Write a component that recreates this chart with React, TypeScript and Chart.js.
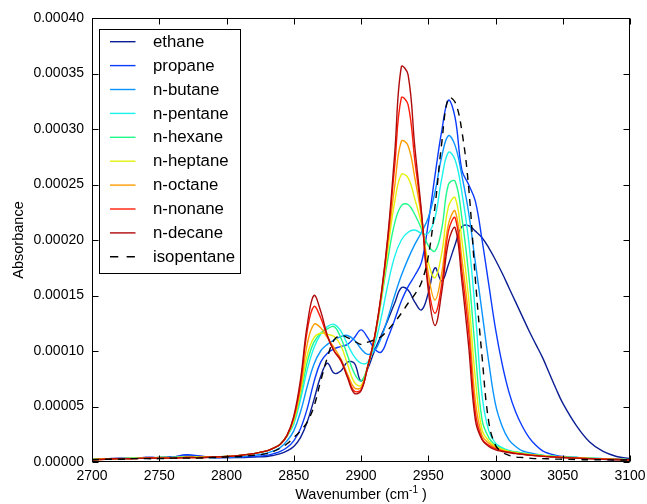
import React, { useEffect, useRef } from 'react';
import { Chart, registerables } from 'chart.js';

Chart.register(...registerables);

// Wavenumber grid (cm^-1)
const WAVENUMBER = [
  2700, 2710, 2720, 2730, 2740, 2750, 2760, 2770, 2780, 2790, 2800, 2810, 2820, 2830,
  2835, 2840, 2845, 2850, 2855, 2860, 2865, 2870, 2875, 2880, 2885, 2890, 2895, 2900,
  2905, 2910, 2915, 2920, 2925, 2930, 2935, 2940, 2945, 2950, 2955, 2960, 2965, 2970,
  2975, 2980, 2985, 2990, 2995, 3000, 3005, 3010, 3015, 3020, 3025, 3030, 3035, 3040,
  3045, 3050, 3060, 3070, 3080, 3090, 3100,
];

// Absorbance values in units of 1e-5
const ETHANE = [
  0.30, 0.30, 0.35, 0.35, 0.40, 0.40, 0.45, 0.55, 0.50, 0.40, 0.40, 0.40, 0.45, 0.50,
  0.60, 0.75, 1.00, 1.40, 2.20, 3.60, 5.60, 7.70, 8.90, 8.00, 8.20, 9.00, 8.90, 7.30,
  8.40, 10.0, 11.4, 12.8, 14.3, 15.7, 15.5, 14.4, 13.7, 15.2, 17.5, 16.3, 17.8, 19.6,
  21.2, 21.3, 20.8, 20.2, 19.3, 18.2, 17.0, 15.7, 14.4, 13.1, 11.8, 10.6, 9.4, 8.0,
  6.6, 5.3, 3.3, 1.8, 0.95, 0.50, 0.30,
];
const PROPANE = [
  0.25, 0.30, 0.30, 0.35, 0.40, 0.40, 0.45, 0.65, 0.55, 0.40, 0.40, 0.45, 0.50, 0.60,
  0.75, 0.95, 1.30, 1.90, 3.00, 4.80, 7.20, 9.00, 9.80, 10.2, 10.4, 10.6, 11.2, 11.9,
  11.2, 10.2, 9.9, 11.2, 12.8, 14.5, 15.8, 16.8, 18.0, 21.5, 25.8, 29.8, 32.6, 31.0,
  26.3, 25.0, 23.5, 20.0, 16.0, 12.0, 8.8, 6.3, 4.5, 3.2, 2.2, 1.5, 1.0, 0.75,
  0.60, 0.50, 0.40, 0.30, 0.25, 0.20, 0.20,
];
const N_BUTANE = [
  0.25, 0.30, 0.30, 0.30, 0.35, 0.35, 0.40, 0.50, 0.45, 0.40, 0.45, 0.50, 0.60, 0.80,
  1.00, 1.30, 1.90, 2.80, 4.50, 6.80, 8.80, 10.0, 10.6, 11.0, 11.3, 11.4, 11.0, 10.2,
  9.7, 10.0, 11.2, 13.0, 15.0, 16.8, 18.3, 19.6, 20.7, 22.0, 24.3, 27.5, 29.4, 28.5,
  25.8, 22.5, 18.0, 13.5, 9.0, 5.2, 3.2, 2.0, 1.4, 1.0, 0.85, 0.70, 0.60, 0.55,
  0.50, 0.45, 0.40, 0.35, 0.30, 0.25, 0.20,
];
const N_PENTANE = [
  0.25, 0.30, 0.30, 0.35, 0.35, 0.40, 0.40, 0.45, 0.45, 0.45, 0.50, 0.60, 0.75, 1.00,
  1.25, 1.60, 2.30, 3.40, 5.60, 8.30, 10.3, 11.5, 12.2, 12.4, 11.8, 10.6, 9.5, 8.9,
  9.0, 10.5, 13.0, 16.0, 18.5, 20.0, 20.7, 20.9, 20.6, 20.6, 22.0, 25.5, 27.9, 27.2,
  24.3, 20.0, 13.5, 6.0, 2.8, 1.7, 1.3, 1.05, 0.90, 0.80, 0.70, 0.65, 0.60, 0.55,
  0.50, 0.45, 0.40, 0.35, 0.30, 0.25, 0.20,
];
const N_HEXANE = [
  0.25, 0.30, 0.30, 0.35, 0.35, 0.40, 0.40, 0.45, 0.45, 0.45, 0.50, 0.60, 0.75, 1.00,
  1.25, 1.60, 2.35, 3.60, 6.00, 9.00, 10.8, 11.6, 12.0, 12.2, 11.2, 9.6, 8.0, 7.3,
  8.6, 11.0, 14.5, 18.3, 21.5, 23.1, 23.2, 22.3, 21.0, 19.5, 19.0, 21.0, 25.0, 25.3,
  22.0, 17.0, 10.0, 3.8, 2.2, 1.5, 1.2, 1.0, 0.90, 0.80, 0.70, 0.65, 0.60, 0.55,
  0.50, 0.45, 0.40, 0.35, 0.30, 0.25, 0.20,
];
const N_HEPTANE = [
  0.25, 0.30, 0.30, 0.35, 0.35, 0.40, 0.40, 0.45, 0.45, 0.45, 0.50, 0.60, 0.75, 1.00,
  1.25, 1.60, 2.35, 3.70, 6.30, 9.60, 11.2, 11.6, 11.5, 11.3, 10.5, 8.8, 7.2, 6.9,
  8.6, 11.1, 14.7, 19.2, 23.4, 25.9, 25.6, 23.7, 21.4, 18.0, 16.6, 18.8, 23.0, 23.8,
  20.0, 14.8, 7.5, 2.9, 1.9, 1.4, 1.15, 0.95, 0.85, 0.75, 0.68, 0.62, 0.57, 0.52,
  0.48, 0.44, 0.38, 0.33, 0.28, 0.24, 0.20,
];
const N_OCTANE = [
  0.20, 0.25, 0.30, 0.30, 0.35, 0.35, 0.35, 0.40, 0.40, 0.45, 0.50, 0.60, 0.75, 1.00,
  1.25, 1.60, 2.40, 3.90, 6.60, 10.6, 12.4, 12.1, 11.2, 10.3, 9.3, 7.9, 6.7, 6.7,
  8.6, 11.2, 14.9, 19.8, 24.8, 28.9, 28.5, 25.6, 22.0, 17.0, 14.6, 17.0, 21.4, 22.6,
  18.3, 13.0, 5.5, 2.4, 1.7, 1.3, 1.05, 0.90, 0.80, 0.72, 0.65, 0.60, 0.55, 0.50,
  0.46, 0.42, 0.36, 0.31, 0.27, 0.23, 0.20,
];
const N_NONANE = [
  0.20, 0.25, 0.30, 0.30, 0.35, 0.35, 0.35, 0.40, 0.40, 0.45, 0.50, 0.60, 0.75, 1.00,
  1.25, 1.60, 2.40, 4.00, 7.00, 11.8, 14.0, 13.0, 11.3, 10.0, 9.1, 7.7, 6.4, 6.5,
  8.6, 11.2, 15.0, 20.2, 26.6, 32.8, 32.2, 27.2, 22.3, 16.0, 13.4, 16.0, 20.8, 22.0,
  17.2, 11.8, 4.5, 2.1, 1.5, 1.2, 1.0, 0.88, 0.78, 0.70, 0.63, 0.58, 0.53, 0.48,
  0.45, 0.41, 0.35, 0.30, 0.26, 0.22, 0.20,
];
const N_DECANE = [
  0.20, 0.25, 0.30, 0.30, 0.35, 0.35, 0.35, 0.40, 0.40, 0.45, 0.50, 0.60, 0.75, 1.00,
  1.25, 1.60, 2.40, 4.10, 7.40, 12.3, 15.0, 13.6, 11.4, 10.0, 9.2, 7.6, 6.2, 6.4,
  8.6, 11.2, 15.1, 20.4, 27.7, 35.6, 34.9, 28.4, 22.5, 15.5, 12.3, 15.3, 19.8, 21.1,
  16.3, 10.5, 3.8, 2.0, 1.4, 1.1, 0.95, 0.85, 0.75, 0.70, 0.62, 0.56, 0.51, 0.47,
  0.44, 0.40, 0.35, 0.30, 0.25, 0.22, 0.20,
];
const ISOPENTANE = [
  0.20, 0.25, 0.25, 0.30, 0.30, 0.30, 0.35, 0.35, 0.35, 0.40, 0.45, 0.50, 0.60, 0.75,
  0.95, 1.25, 1.65, 2.20, 2.80, 3.60, 5.00, 7.30, 9.40, 11.0, 11.4, 11.2, 10.9, 10.6,
  10.8, 11.0, 11.3, 11.9, 12.6, 13.4, 14.3, 15.1, 16.2, 18.5, 23.0, 28.7, 32.8, 32.4,
  29.8, 24.8, 16.5, 9.5, 3.6, 1.5, 0.90, 0.60, 0.45, 0.40, 0.35, 0.30, 0.30, 0.28,
  0.26, 0.25, 0.22, 0.20, 0.20, 0.18, 0.18,
];

const SERIES = [ETHANE, PROPANE, N_BUTANE, N_PENTANE, N_HEXANE, N_HEPTANE, N_OCTANE, N_NONANE, N_DECANE, ISOPENTANE];
const SERIES_NAMES = ['ethane', 'propane', 'n-butane', 'n-pentane', 'n-hexane', 'n-heptane', 'n-octane', 'n-nonane', 'n-decane', 'isopentane'];
const SERIES_COLORS = ['#0b1e94', '#0a3bff', '#0994ff', '#1cf2ec', '#1ffa8a', '#e3f10c', '#ff9d00', '#ff1c08', '#b00a0a', '#000000'];
const VALUE_UNIT = 1e-5;

const X_MIN = 2700;
const X_MAX = 3100;
const X_STEP = 50;
const Y_MIN = 0;
const Y_MAX = 0.0004;
const Y_STEP = 0.00005;

const X_TITLE = 'Wavenumber (cm';
const X_TITLE_SUP = '-1';
const X_TITLE_TAIL = ' )';
const Y_TITLE = 'Absorbance';

const FONT = '"Liberation Sans", Arial, Helvetica, sans-serif';
const DASH = [7, 6];

const framePlugin = {
  id: 'mplFrame',
  afterDraw(chart: any) {
    const { ctx, chartArea } = chart;
    const xs = chart.scales.x;
    const ys = chart.scales.y;
    const L = Math.round(chartArea.left) + 0.5;
    const R = Math.round(chartArea.right) - 0.5;
    const T = Math.round(chartArea.top) + 0.5;
    const B = Math.round(chartArea.bottom) - 0.5;
    const TICK = 6;
    ctx.save();
    ctx.strokeStyle = '#000';
    ctx.lineWidth = 1;
    ctx.setLineDash([]);
    ctx.beginPath();
    xs.ticks.forEach((t: any) => {
      const px = Math.round(xs.getPixelForValue(t.value)) + 0.5;
      ctx.moveTo(px, B); ctx.lineTo(px, B - TICK);
      ctx.moveTo(px, T); ctx.lineTo(px, T + TICK);
    });
    ys.ticks.forEach((t: any) => {
      const py = Math.round(ys.getPixelForValue(t.value)) + 0.5;
      ctx.moveTo(L, py); ctx.lineTo(L + TICK, py);
      ctx.moveTo(R, py); ctx.lineTo(R - TICK, py);
    });
    ctx.stroke();
    ctx.strokeRect(L, T, R - L, B - T);

    // legend
    const lx = L + 7;
    const ly = T + 11;
    const lw = 141;
    const lh = 244;
    ctx.fillStyle = '#fff';
    ctx.fillRect(lx, ly, lw, lh);
    ctx.strokeStyle = '#000';
    ctx.lineWidth = 1;
    ctx.strokeRect(lx, ly, lw, lh);
    ctx.font = `16.8px ${FONT}`;
    ctx.textBaseline = 'middle';
    ctx.textAlign = 'left';
    chart.data.datasets.forEach((ds: any, i: number) => {
      const y = ly + 12.2 + i * 23.9;
      ctx.strokeStyle = ds.borderColor;
      ctx.lineWidth = ds.borderWidth;
      ctx.setLineDash(ds.borderDash && ds.borderDash.length ? [8.3, 8.3] : []);
      ctx.beginPath();
      ctx.moveTo(lx + 10.5, y);
      ctx.lineTo(lx + 36, y);
      ctx.stroke();
      ctx.setLineDash([]);
      ctx.fillStyle = '#000';
      ctx.fillText(ds.label, lx + 53.5, y + 0.5);
    });

    // axis titles
    ctx.fillStyle = '#000';
    ctx.font = `14.5px ${FONT}`;
    const w1 = ctx.measureText(X_TITLE).width;
    ctx.font = `10px ${FONT}`;
    const w2 = ctx.measureText(X_TITLE_SUP).width;
    ctx.font = `14.5px ${FONT}`;
    const w3 = ctx.measureText(X_TITLE_TAIL).width;
    const cx = (chartArea.left + chartArea.right) / 2;
    let x0 = cx - (w1 + w2 + w3) / 2;
    const base = 499;
    ctx.textBaseline = 'alphabetic';
    ctx.fillText(X_TITLE, x0, base);
    x0 += w1;
    ctx.font = `10px ${FONT}`;
    ctx.fillText(X_TITLE_SUP, x0, base - 6);
    x0 += w2;
    ctx.font = `14.5px ${FONT}`;
    ctx.fillText(X_TITLE_TAIL, x0, base);

    ctx.save();
    ctx.translate(19, (chartArea.top + chartArea.bottom) / 2);
    ctx.rotate(-Math.PI / 2);
    ctx.textAlign = 'center';
    ctx.textBaseline = 'middle';
    ctx.fillText(Y_TITLE, 0, 0);
    ctx.restore();
    ctx.restore();
  },
};

export default function App() {
  const ref = useRef<HTMLCanvasElement>(null);
  useEffect(() => {
    if (!ref.current) return;
    const datasets = SERIES.map((vals, i) => ({
      label: SERIES_NAMES[i],
      data: WAVENUMBER.map((w, j) => ({ x: w, y: vals[j] * VALUE_UNIT })),
      borderColor: SERIES_COLORS[i],
      backgroundColor: SERIES_COLORS[i],
      borderWidth: 1.4,
      borderDash: i === SERIES.length - 1 ? DASH : [],
      pointRadius: 0,
      pointHoverRadius: 0,
      tension: 0.4,
      fill: false,
      order: SERIES.length - i,
    }));
    const tickFont = { family: FONT, size: 14 };
    const chart = new Chart(ref.current, {
      type: 'line',
      data: { datasets },
      options: {
        animation: false,
        responsive: false,
        maintainAspectRatio: false,
        events: [],
        layout: { padding: { top: 18, right: 17, left: 0, bottom: 0 } },
        plugins: { legend: { display: false }, tooltip: { enabled: false } },
        scales: {
          x: {
            type: 'linear',
            min: X_MIN,
            max: X_MAX,
            grid: { display: false, drawTicks: false },
            border: { display: false },
            ticks: {
              stepSize: X_STEP,
              autoSkip: false,
              maxRotation: 0,
              padding: 6,
              color: '#000',
              font: tickFont,
              callback: (v: any) => String(v),
            },
            afterFit: (s: any) => { s.height = 42; s.paddingLeft = 0; s.paddingRight = 0; },
          },
          y: {
            type: 'linear',
            min: Y_MIN,
            max: Y_MAX,
            grid: { display: false, drawTicks: false },
            border: { display: false },
            ticks: {
              stepSize: Y_STEP,
              autoSkip: false,
              padding: 8,
              color: '#000',
              font: tickFont,
              callback: (v: any) => Number(v).toFixed(5),
            },
            afterFit: (s: any) => { s.width = 92; s.paddingTop = 0; s.paddingBottom = 0; },
          },
        },
      },
      plugins: [framePlugin],
    } as any);
    return () => chart.destroy();
  }, []);
  return (
    <div style={{ position: 'absolute', left: 0, top: 0, width: 647, height: 504, background: '#fff' }}>
      <canvas ref={ref} width={647} height={504} style={{ width: 647, height: 504, display: 'block' }} />
    </div>
  );
}
